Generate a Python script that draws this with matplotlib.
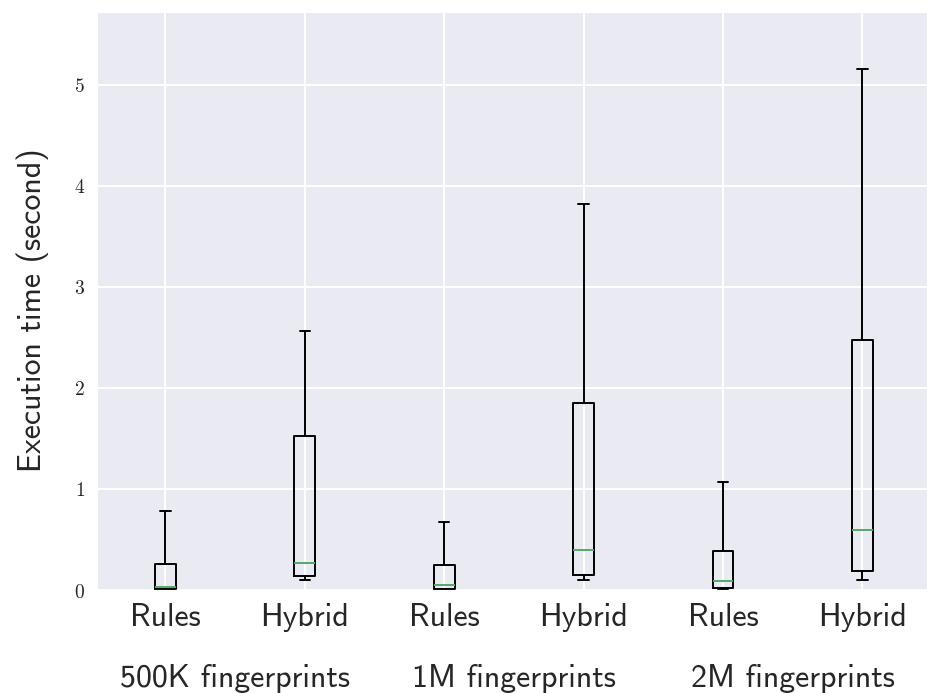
import matplotlib
matplotlib.use("Agg")
import matplotlib.pyplot as plt
import matplotlib.transforms as mtransforms
import seaborn as sns

sns.set_style("darkgrid")
plt.rcParams['mathtext.fontset'] = 'cm'
plt.rcParams['grid.linewidth'] = 1.4
plt.rcParams['axes.unicode_minus'] = False

# box statistics per method/dataset size (seconds)
labels = ['Rules', 'Hybrid', 'Rules', 'Hybrid', 'Rules', 'Hybrid']
groups = ['500K fingerprints', '1M fingerprints', '2M fingerprints']
whislo = [0.00, 0.10, 0.00, 0.10, 0.00, 0.10]
q1 = [0.01, 0.14, 0.01, 0.15, 0.02, 0.19]
med = [0.03, 0.27, 0.05, 0.40, 0.09, 0.59]
q3 = [0.26, 1.52, 0.25, 1.85, 0.39, 2.47]
whishi = [0.78, 2.56, 0.67, 3.82, 1.07, 5.16]

stats = [dict(whislo=whislo[i], q1=q1[i], med=med[i], q3=q3[i],
              whishi=whishi[i], fliers=[])
         for i in range(len(labels))]
positions = list(range(1, len(labels) + 1))
sans = 'cmss10'

fig = plt.figure(figsize=(9.28, 6.93), dpi=100)
ax = fig.add_axes([0.1045, 0.1486, 0.9, 0.8341])

ax.bxp(stats, positions=positions, widths=0.15, showfliers=False,
       boxprops=dict(color='black', linewidth=1.4),
       whiskerprops=dict(color='black', linewidth=1.4),
       capprops=dict(color='black', linewidth=1.4),
       medianprops=dict(color='#55a868', linewidth=1.4))

ax.set_xlim(0.51, 6.5)
ax.set_ylim(0, 5.72)
ax.set_yticks(range(6))
ax.set_yticklabels(['$%d$' % v for v in range(6)], fontsize=14)
ax.set_xticks(positions)
ax.set_xticklabels(labels, fontsize=23, family=sans)
ax.tick_params(axis='x', pad=6)
ax.tick_params(axis='y', pad=5)
ax.set_ylabel('Execution time (second)', fontsize=23, family=sans, labelpad=18)
ax.yaxis.label.set_y(0.485)

# dataset size under each pair of boxes
trans = mtransforms.blended_transform_factory(ax.transData, fig.transFigure)
for i, g in enumerate(groups):
    ax.text(2 * i + 1.5, 1 - 687 / 693, g, fontsize=23, family=sans,
            ha='center', va='baseline', transform=trans)

fig.savefig('out.png', dpi=100)
